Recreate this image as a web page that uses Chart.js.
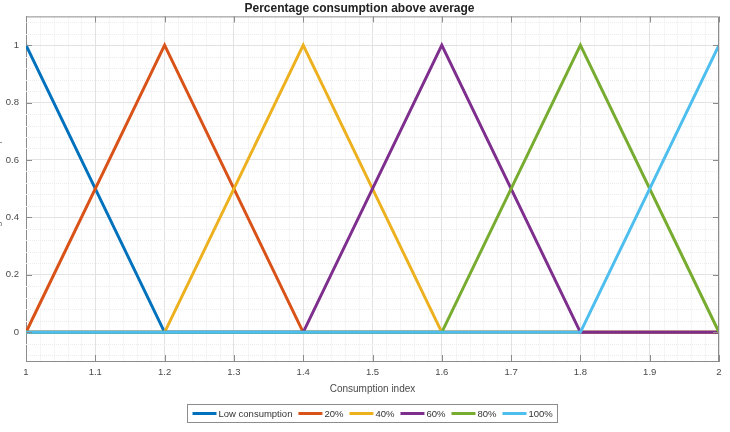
<!DOCTYPE html>
<html>
<head>
<meta charset="utf-8">
<title>Percentage consumption above average</title>
<script src="https://cdn.jsdelivr.net/npm/chart.js@4.4.1/dist/chart.umd.min.js"></script>
<style>
  html, body { margin: 0; padding: 0; background: #fff; }
  #wrap { width: 730px; height: 432px; position: relative; }
</style>
</head>
<body>
<div id="wrap"><canvas id="myChart"></canvas></div>
<script>
// consumption index at each breakpoint
const xValues = [1, 1.2, 1.4, 1.6, 1.8, 2];

// membership of each class at the breakpoints
const lowConsumption = [1, 0, 0, 0, 0, 0];
const pct20 = [0, 1, 0, 0, 0, 0];
const pct40 = [0, 0, 1, 0, 0, 0];
const pct60 = [0, 0, 0, 1, 0, 0];
const pct80 = [0, 0, 0, 0, 1, 0];
const pct100 = [0, 0, 0, 0, 0, 1];

const seriesNames = ['Low consumption', '20%', '40%', '60%', '80%', '100%'];
const seriesValues = [lowConsumption, pct20, pct40, pct60, pct80, pct100];
const seriesColors = ['#0072BD', '#D95319', '#EDB120', '#7E2F8E', '#77AC30', '#4DBEEE'];

const xTicks = [1, 1.1, 1.2, 1.3, 1.4, 1.5, 1.6, 1.7, 1.8, 1.9, 2];
const xTickLabels = ['1', '1.1', '1.2', '1.3', '1.4', '1.5', '1.6', '1.7', '1.8', '1.9', '2'];
const yTicks = [0, 0.2, 0.4, 0.6, 0.8, 1];
const yTickLabels = ['0', '0.2', '0.4', '0.6', '0.8', '1'];

const FONT = '"Liberation Sans", Arial, Helvetica, sans-serif';
const axisColor = '#8c8c8c';
const textColor = '#4a4a4a';

// minor grid (dotted), box edges and inward tick marks like matlab
const axesDecor = {
    id: 'axesDecor',
    beforeDatasetsDraw(chart) {
        const {ctx, chartArea: a, scales: {x, y}} = chart;
        ctx.save();
        ctx.strokeStyle = '#ececec';
        ctx.lineWidth = 1;
        ctx.setLineDash([1, 1]);
        for (let k = 51; k < 100; k++) {
            if (k % 5 === 0) continue;
            const px = Math.round(x.getPixelForValue(k / 50)) + 0.5;
            ctx.beginPath(); ctx.moveTo(px, a.top); ctx.lineTo(px, a.bottom); ctx.stroke();
        }
        for (let k = -2; k <= 27; k++) {
            if (k % 5 === 0) continue;
            const py = Math.round(y.getPixelForValue(k / 25)) + 0.5;
            if (py <= a.top || py >= a.bottom) continue;
            ctx.beginPath(); ctx.moveTo(a.left, py); ctx.lineTo(a.right, py); ctx.stroke();
        }
        ctx.restore();
    },
    afterDraw(chart) {
        const {ctx, chartArea: a, scales: {x, y}} = chart;
        ctx.save();
        ctx.strokeStyle = axisColor;
        ctx.lineWidth = 1;
        ctx.beginPath();
        ctx.moveTo(a.left + 0.5, a.top + 0.5);
        ctx.lineTo(a.right - 0.5, a.top + 0.5);
        ctx.lineTo(a.right - 0.5, a.bottom);
        ctx.stroke();
        const len = 6;
        xTicks.forEach(v => {
            const px = Math.round(x.getPixelForValue(v)) + 0.5;
            ctx.beginPath();
            ctx.moveTo(px, a.bottom); ctx.lineTo(px, a.bottom - len);
            ctx.moveTo(px, a.top); ctx.lineTo(px, a.top + len);
            ctx.stroke();
        });
        yTicks.forEach(v => {
            const py = Math.round(y.getPixelForValue(v)) + 0.5;
            ctx.beginPath();
            ctx.moveTo(a.left, py); ctx.lineTo(a.left + len, py);
            ctx.moveTo(a.right, py); ctx.lineTo(a.right - len, py);
            ctx.stroke();
        });

        // y label, almost entirely cut off by the left edge in the original
        ctx.fillStyle = '#777';
        ctx.font = '10px ' + FONT;
        ctx.translate(-0.5, (a.top + a.bottom) / 2);
        ctx.rotate(-Math.PI / 2);
        ctx.textAlign = 'center';
        ctx.textBaseline = 'alphabetic';
        ctx.fillText('Degree of membership', 0, 0);
        ctx.restore();

        // boxed legend at the bottom
        ctx.save();
        ctx.font = '9.5px ' + FONT;
        const lineLen = 24, textGap = 2, itemGap = 6, pad = 5;
        const widths = seriesNames.map(n => ctx.measureText(n).width);
        let total = 0;
        widths.forEach((w, i) => { total += lineLen + textGap + w + (i < widths.length - 1 ? itemGap : 0); });
        const cx = (a.left + a.right) / 2;
        const boxLeft = Math.round(cx - total / 2 - pad) + 0.5;
        const boxTop = 404.5, boxH = 18;
        ctx.fillStyle = '#fff';
        ctx.fillRect(boxLeft, boxTop, total + pad * 2, boxH);
        ctx.strokeStyle = axisColor;
        ctx.strokeRect(boxLeft, boxTop, Math.round(total + pad * 2), boxH);
        let cur = boxLeft + pad;
        const midY = boxTop + boxH / 2;
        seriesNames.forEach((n, i) => {
            ctx.strokeStyle = seriesColors[i];
            ctx.lineWidth = 3;
            ctx.beginPath(); ctx.moveTo(cur, midY); ctx.lineTo(cur + lineLen, midY); ctx.stroke();
            cur += lineLen + textGap;
            ctx.fillStyle = '#333';
            ctx.textBaseline = 'middle';
            ctx.fillText(n, cur, midY + 0.5);
            cur += widths[i] + itemGap;
        });
        ctx.restore();
    }
};

const datasets = seriesNames.map((name, i) => ({
    label: name,
    data: xValues.map((xv, j) => ({x: xv, y: seriesValues[i][j]})),
    borderColor: seriesColors[i],
    backgroundColor: seriesColors[i],
    borderWidth: 3,
    pointRadius: 0,
    tension: 0,
    fill: false,
    order: seriesNames.length - i // later series drawn on top
}));

const myChart = document.getElementById('myChart');

new Chart(myChart, {
    type: 'line',
    data: { datasets: datasets },
    options: {
        responsive: true,
        maintainAspectRatio: false,
        animation: false,
        layout: { padding: { left: 0, right: 11, top: 0, bottom: 0 } },
        plugins: {
            legend: { display: false },
            tooltip: { enabled: false },
            title: {
                display: true,
                text: 'Percentage consumption above average',
                color: '#222',
                font: { family: FONT, size: 12, weight: 'bold' },
                padding: { top: 1, bottom: 1 }
            }
        },
        scales: {
            x: {
                type: 'linear',
                min: 1,
                max: 2,
                afterBuildTicks: s => { s.ticks = xTicks.map(v => ({value: v})); },
                afterFit: s => { s.height = 71; },
                ticks: {
                    autoSkip: false,
                    maxRotation: 0,
                    padding: 6,
                    color: textColor,
                    font: { family: FONT, size: 9.5 },
                    callback: (v, i) => xTickLabels[i]
                },
                grid: { color: '#e2e2e2', drawTicks: false },
                border: { color: axisColor, width: 1 },
                title: {
                    display: true,
                    text: 'Consumption index',
                    color: textColor,
                    font: { family: FONT, size: 10 },
                    padding: { top: 0, bottom: 37 }
                }
            },
            y: {
                type: 'linear',
                min: -0.1,
                max: 1.1,
                afterBuildTicks: s => { s.ticks = yTicks.map(v => ({value: v})); },
                afterFit: s => { s.width = 26; },
                ticks: {
                    padding: 7,
                    color: textColor,
                    font: { family: FONT, size: 9.5 },
                    callback: (v, i) => yTickLabels[i]
                },
                grid: { color: '#e2e2e2', drawTicks: false },
                border: { color: axisColor, width: 1 }
            }
        }
    },
    plugins: [axesDecor]
});
</script>
</body>
</html>
